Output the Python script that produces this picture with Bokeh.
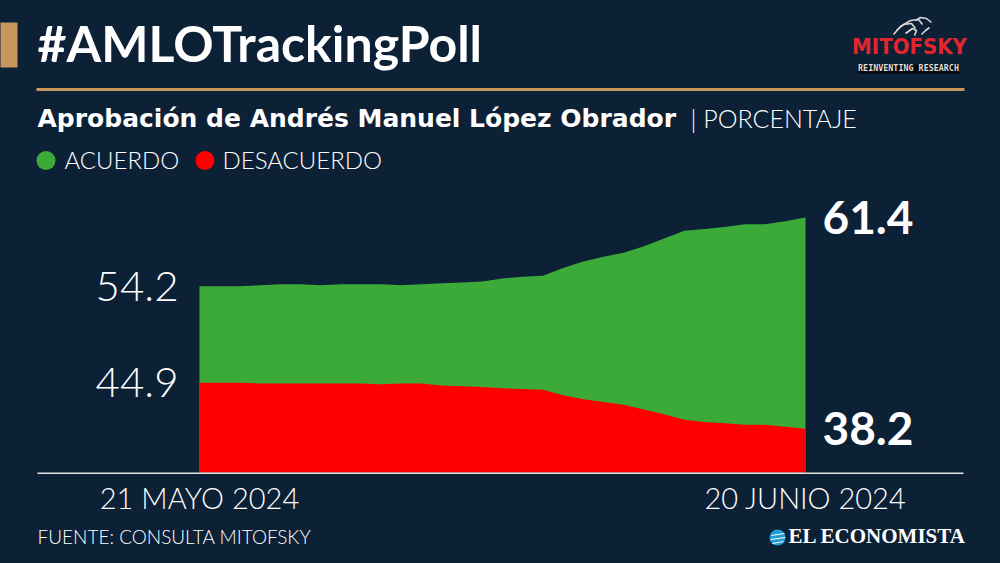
import datetime as dt
from bokeh.plotting import figure
from bokeh.models import Range1d
from bokeh.core.properties import value
from bokeh.embed import file_html
from bokeh.resources import INLINE

# ---------------- data ----------------
fechas = [
    "2024-05-21", "2024-05-22", "2024-05-23", "2024-05-24", "2024-05-25",
    "2024-05-26", "2024-05-27", "2024-05-28", "2024-05-29", "2024-05-30",
    "2024-05-31", "2024-06-01", "2024-06-02", "2024-06-03", "2024-06-04",
    "2024-06-05", "2024-06-06", "2024-06-07", "2024-06-08", "2024-06-09",
    "2024-06-10", "2024-06-11", "2024-06-12", "2024-06-13", "2024-06-14",
    "2024-06-15", "2024-06-16", "2024-06-17", "2024-06-18", "2024-06-19",
    "2024-06-20",
]
acuerdo = [54.2, 54.2, 54.2, 54.3, 54.4, 54.4, 54.3, 54.4, 54.4, 54.4,
           54.3, 54.4, 54.5, 54.6, 54.7, 55.0, 55.2, 55.3, 56.1, 56.8,
           57.3, 57.7, 58.4, 59.2, 60.0, 60.2, 60.4, 60.7, 60.7, 61.0, 61.4]
desacuerdo = [44.9, 44.9, 44.9, 44.8, 44.8, 44.8, 44.8, 44.8, 44.8, 44.7,
              44.8, 44.8, 44.5, 44.4, 44.3, 44.1, 44.0, 43.9, 43.1, 42.5,
              42.1, 41.7, 41.0, 40.3, 39.5, 39.2, 39.0, 38.8, 38.8, 38.5, 38.2]
series = ["ACUERDO", "DESACUERDO"]
etiquetas_x = ["21 MAYO 2024", "20 JUNIO 2024"]

titulo = "#AMLOTrackingPoll"
subtitulo = "Aprobación de Andrés Manuel López Obrador"
unidad = "| PORCENTAJE"
fuente = "FUENTE: CONSULTA MITOFSKY"

# ---------------- style / layout ----------------
W, H = 1000, 563
NAVY = "#0c2036"
GREEN = "#3caa39"
RED = "#fe0000"
GOLD = "#c8955b"
WHITE = "#ffffff"
LIGHT = "Lato Light, Lato, sans-serif"
BOLD = "Lato, sans-serif"
WIDEBOLD = "DejaVu Sans, sans-serif"

DAY_MS = 86400000
X0_PX, PX_PER_DAY = 199.0, 20.2
G_START, G_END = 25.13, 84.15      # scale for ACUERDO
R_START, R_END = 18.58, 100.58     # scale for DESACUERDO
BASE_PX = 472.0

x = [dt.datetime.fromisoformat(d) for d in fechas]
x0_ms = (x[0] - dt.datetime(1970, 1, 1)).total_seconds() * 1000.0


def XD(px):
    return x0_ms + (px - X0_PX) / PX_PER_DAY * DAY_MS


def YD(py):
    return G_END - py / H * (G_END - G_START)


def YR(py):
    return R_END - py / H * (R_END - R_START)


p = figure(width=W, height=H, output_backend="svg", toolbar_location=None,
           x_axis_type="datetime", x_axis_location=None, y_axis_location=None,
           x_range=Range1d(XD(0), XD(W)), y_range=Range1d(G_START, G_END),
           min_border=0, title=None)
p.extra_y_ranges = {"red": Range1d(R_START, R_END)}
p.background_fill_color = NAVY
p.border_fill_color = NAVY
p.outline_line_color = None
p.grid.visible = False

# ---------------- areas ----------------
p.varea(x=x, y1=[YD(BASE_PX)] * len(x), y2=acuerdo, fill_color=GREEN)
p.varea(x=x, y1=[YR(BASE_PX)] * len(x), y2=desacuerdo, fill_color=RED,
        y_range_name="red")

# baseline
p.segment(x0=[XD(37)], y0=[YD(472.8)], x1=[XD(963)], y1=[YD(472.8)],
          line_color="#e4e4e4", line_width=1.6)

# ---------------- decorations ----------------
p.quad(left=[XD(-2)], right=[XD(17)], top=[YD(22)], bottom=[YD(67)],
       fill_color=GOLD, line_color=None)
p.segment(x0=[XD(36)], y0=[YD(89)], x1=[XD(964)], y1=[YD(89)],
          line_color=GOLD, line_width=3)


def txt(px, py, s, size, font=LIGHT, style="normal", color=WHITE,
        align="left"):
    # py = vertical centre of the capitals in pixels from the top
    p.text(x=[XD(px)], y=[YD(py - 0.06 * size)], text=[s], text_font=value(font),
           text_font_size=f"{size}px", text_font_style=style,
           text_color=color, text_align=align, text_baseline="middle")


txt(37, 45, titulo, 50, font=BOLD, style="bold")
txt(37, 119, subtitulo, 25, font=WIDEBOLD, style="bold")
txt(690, 119, unidad, 25)

# legend
p.scatter(x=[XD(45.5), XD(204.5)], y=[YD(160), YD(160)], size=19,
          marker="circle", fill_color=[GREEN, RED], line_color=None)
txt(64, 160, series[0], 24)
txt(222, 160, series[1], 24)

# value labels tied to data
p.text(x=[x[0]], y=[acuerdo[0]], text=[f"{acuerdo[0]:.1f}"], x_offset=-21,
       text_align="right", text_baseline="middle", text_font=value(LIGHT),
       text_font_size="42px", text_color=WHITE)
p.text(x=[x[0]], y=[desacuerdo[0]], text=[f"{desacuerdo[0]:.1f}"], x_offset=-21,
       text_align="right", text_baseline="middle", text_font=value(LIGHT),
       text_font_size="42px", text_color=WHITE, y_range_name="red")
p.text(x=[x[-1]], y=[acuerdo[-1]], text=[f"{acuerdo[-1]:.1f}"], x_offset=17,
       text_align="left", text_baseline="middle", text_font=value(BOLD),
       text_font_style="bold", text_font_size="46px", text_color=WHITE)
p.text(x=[x[-1]], y=[desacuerdo[-1]], text=[f"{desacuerdo[-1]:.1f}"], x_offset=17,
       text_align="left", text_baseline="middle", text_font=value(BOLD),
       text_font_style="bold", text_font_size="46px", text_color=WHITE,
       y_range_name="red")

# x labels at first/last date
p.text(x=[x[0], x[-1]], y=[YD(499 - 0.06 * 29)] * 2, text=etiquetas_x,
       text_align="center", text_baseline="middle", text_font=value(LIGHT),
       text_font_size="29px", text_color=WHITE)

# footer
txt(37, 537, fuente, 19)

# El Economista logo
p.scatter(x=[XD(777)], y=[YD(537)], size=16, marker="circle",
          fill_color="#1f9bd7", line_color=None)
p.multi_line(xs=[[XD(771), XD(784)], [XD(770), XD(785)], [XD(772), XD(783)]],
             ys=[[YD(535), YD(533)], [YD(539), YD(537)], [YD(543), YD(541)]],
             line_color="white", line_width=1)
txt(788, 537, "EL ECONOMISTA", 21, font="Liberation Serif", style="bold")

# Mitofsky logo
p.multi_line(
    xs=[[XD(893), XD(900), XD(910), XD(918), XD(922)],
        [XD(896), XD(903), XD(911), XD(915)],
        [XD(905), XD(912), XD(916), XD(914)],
        [XD(915), XD(920), XD(926), XD(931)],
        [XD(921), XD(925), XD(929)]],
    ys=[[YD(34), YD(26), YD(20), YD(19), YD(24)],
        [YD(30), YD(24), YD(23), YD(28)],
        [YD(33), YD(28), YD(30), YD(35)],
        [YD(20), YD(17), YD(18), YD(22)],
        [YD(34), YD(30), YD(27)]],
    line_color="#d8d8d8", line_width=1.6)
txt(909, 47, "MITOFSKY", 22, font="Liberation Sans Narrow, DejaVu Sans Condensed, sans-serif",
    style="bold", color="#e3262e", align="center")
p.quad(left=[XD(857)], right=[XD(959)], top=[YD(64)], bottom=[YD(73)],
       fill_color="#05080c", line_color=None)
txt(908, 68.5, "REINVENTING RESEARCH", 8.4, font="DejaVu Sans Mono", style="bold",
    color="#dddddd", align="center")

html = file_html(p, INLINE)
html = html.replace("<head>", "<head><style>html,body{margin:0;padding:0;background:%s;overflow:hidden}</style>" % NAVY, 1)
open("out.html", "w").write(html)
